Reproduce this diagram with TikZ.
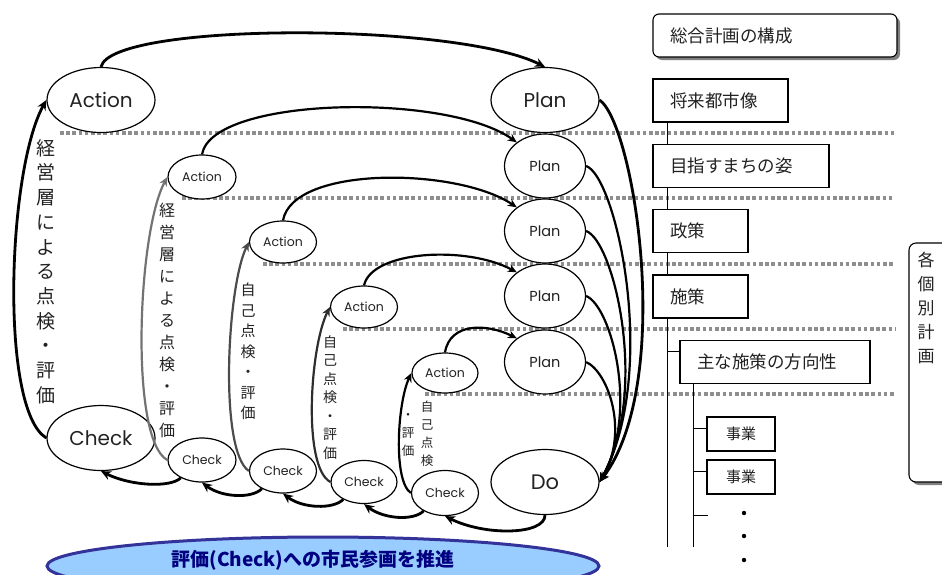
\documentclass[tikz,border=0pt]{standalone}
\usepackage{fontspec}
\usetikzlibrary{shapes.geometric,arrows.meta,shadows}
\newfontfamily\jp{Noto Sans CJK JP}
\newfontfamily\lat{Poppins}
\definecolor{navyb}{HTML}{333399}
\definecolor{navyt}{HTML}{000080}
\definecolor{lblue}{HTML}{99CCFF}
\definecolor{txt}{HTML}{222222}
\definecolor{dotg}{HTML}{8E8E8E}
\begin{document}
\begin{tikzpicture}[x=1pt,y=-1pt,
  dotsep/.style={draw=dotg, line width=3.2pt, dash pattern=on 3.6pt off 2.6pt},
  ell/.style={ellipse, draw, line width=1.2pt, fill=white, inner sep=0pt, text=txt},
  bigell/.style={ell, minimum width=108pt, minimum height=65pt, font=\lat\fontsize{20}{24}\selectfont},
  planell/.style={ell, minimum width=81pt, minimum height=64pt, font=\lat\fontsize{14.5}{17}\selectfont},
  smell/.style={ell, font=\lat\fontsize{12.5}{15}\selectfont},
  bigarr/.style={-{Stealth[length=10pt,width=9pt]}, line width=2.8pt},
  midarr/.style={-{Stealth[length=9pt,width=8pt]}, line width=2.2pt},
  jbox/.style={draw, line width=1.1pt, fill=white, inner xsep=17pt, inner ysep=0pt, minimum height=43pt, align=left, text=txt, font=\jp\fontsize{17.5}{20}\selectfont},
  sbox/.style={draw, line width=1.1pt, fill=white, inner sep=0pt, minimum width=68pt, minimum height=34pt, text=txt, font=\jp\fontsize{15}{18}\selectfont},
  shad/.style={drop shadow={shadow xshift=3pt, shadow yshift=-3pt, fill=black!50, opacity=1}},
  vtxt/.style={inner sep=0pt, align=center, text=txt}
]
\useasboundingbox (0,0) rectangle (942,574);

% dotted separators
\draw[dotsep] (60,133) -- (895,133);
\draw[dotsep] (182,198) -- (895,198);
\draw[dotsep] (263,264) -- (895,264);
\draw[dotsep] (343,329) -- (895,329);
\draw[dotsep] (425,394) -- (895,394);

% tree trunks
\coordinate (t1) at (667,122);
\coordinate (t1b) at (667,547);
\draw[line width=1pt] (t1) -- (t1b);
\coordinate (t2) at (693,384);
\coordinate (t2b) at (693,547);
\draw[line width=1pt] (t2) -- (t2b);

% right side boxes
\node[jbox, rounded corners=6pt, shad, text width=210pt] (sogo) at (775,35.5) {総合計画の構成};
\node[jbox, text width=101pt] (fut) at (720.5,100.5) {将来都市像};
\node[jbox, text width=142pt] (mezasu) at (741,166) {目指すまちの姿};
\node[jbox, text width=61pt] (seisaku) at (700.5,231) {政策};
\node[jbox, text width=61pt] (shisaku) at (700.5,296.5) {施策};
\node[jbox, text width=156pt] (omona) at (775,362) {主な施策の方向性};
\node[sbox] (jig1) at (741,434) {事業};
\node[sbox] (jig2) at (741,477) {事業};
\coordinate (b1) at (667,351);
\draw[line width=1pt] (b1) -- (b1 -| omona.west);
\coordinate (b2) at (693,428);
\draw[line width=1pt] (b2) -- (b2 -| jig1.west);
\coordinate (b3) at (693,471);
\draw[line width=1pt] (b3) -- (b3 -| jig2.west);
\coordinate (b4) at (693,515);
\coordinate (b4e) at (708,515);
\draw[line width=1pt] (b4) -- (b4e);
\fill (744,513) circle (2.2pt);
\fill (744,536) circle (2.2pt);
\fill (744,560) circle (2.2pt);

\node[draw, line width=1.1pt, fill=white, rounded corners=7pt, shad, minimum width=70pt, minimum height=239pt] (indiv) at (944,362.5) {};
\node[vtxt, font=\jp\fontsize{17}{24.2}\selectfont] (indivt) at (926,308) {各\\個\\別\\計\\画};

% ellipses
\node[bigell] (act) at (101,100) {Action};
\node[bigell] (pl0) at (545,100) {Plan};
\node[bigell] (chk) at (101,438) {Check};
\node[bigell, font=\lat\fontsize{21}{24}\selectfont] (do) at (545,482) {Do};
\node[planell] (pl1) at (545,166) {Plan};
\node[planell] (pl2) at (545,231) {Plan};
\node[planell] (pl3) at (545,296) {Plan};
\node[planell] (pl4) at (545,362) {Plan};
\node[smell, minimum width=68pt, minimum height=44pt] (a1) at (202,177) {Action};
\node[smell, minimum width=67pt, minimum height=42pt] (a2) at (283,242) {Action};
\node[smell, minimum width=67pt, minimum height=42pt] (a3) at (364,307) {Action};
\node[smell, minimum width=66pt, minimum height=40pt] (a4) at (445,373) {Action};
\node[smell, minimum width=68pt, minimum height=44pt] (c1) at (202,460) {Check};
\node[smell, minimum width=67pt, minimum height=44pt] (c2) at (283,471) {Check};
\node[smell, minimum width=66pt, minimum height=43pt] (c3) at (364,482) {Check};
\node[smell, minimum width=67pt, minimum height=45pt] (c4) at (445,493) {Check};

% vertical labels
\node[vtxt, font=\jp\fontsize{19}{24.7}\selectfont] (v1) at (46,271.5) {経\\営\\層\\に\\よ\\る\\点\\検\\・\\評\\価};
\node[vtxt, font=\jp\fontsize{16}{22}\selectfont] (v2) at (167,320) {経\\営\\層\\に\\よ\\る\\点\\検\\・\\評\\価};
\node[vtxt, font=\jp\fontsize{15}{20.5}\selectfont] (v3) at (248,351.5) {自\\己\\点\\検\\・\\評\\価};
\node[vtxt, font=\jp\fontsize{14}{18.5}\selectfont] (v4) at (330,397.5) {自\\己\\点\\検\\・\\評\\価};
\node[vtxt, font=\jp\fontsize{12.5}{18}\selectfont] (v5a) at (427,434) {自\\己\\点\\検};
\node[vtxt, font=\jp\fontsize{12.5}{18}\selectfont] (v5b) at (408,435) {・\\評\\価};

% Check -> Action (left)
\draw[bigarr] (chk.west) .. controls +(-47,-28) and +(-39,70) .. (act.west);
\draw[midarr, color=black!55] (c1.west) .. controls +(-38,-20) and +(-30,55) .. (a1.west);
\draw[midarr, color=black!70] (c2.west) .. controls +(-30,-20) and +(-22,45) .. (a2.west);
\draw[midarr, color=black!82] (c3.west) .. controls +(-28,-15) and +(-20,40) .. (a3.west);
\draw[midarr, color=black] (c4.west) .. controls +(-18,-12) and +(-14,30) .. (a4.west);

% Action -> Plan (top)
\draw[bigarr] (act.north) .. controls +(10,-45) and +(-90,-45) .. (pl0.north);
\draw[midarr] (a1.north) .. controls +(10,-58) and +(-70,-50) .. (pl1.140);
\draw[midarr] (a2.north) .. controls +(10,-55) and +(-60,-40) .. (pl2.140);
\draw[midarr] (a3.north) .. controls +(8,-35) and +(-50,-27) .. (pl3.140);
\draw[midarr] (a4.north) .. controls +(5,-30) and +(-30,-15) .. (pl4.140);

% Plan -> Do (right)
\draw[bigarr] (pl0.east) .. controls +(35,25) and +(75,-100) .. (do.east);
\draw[midarr] (pl1.east) .. controls +(30,10) and +(60,-110) .. (do.east);
\draw[midarr] (pl2.east) .. controls +(28,10) and +(50,-90) .. (do.east);
\draw[midarr] (pl3.east) .. controls +(25,10) and +(40,-70) .. (do.east);
\draw[midarr] (pl4.east) .. controls +(22,10) and +(30,-50) .. (do.east);

% bottom: Do -> Check chain
\draw[bigarr] (do.south) .. controls +(0,20) and +(40,20) .. (c4.south);
\draw[bigarr] (c4.220) .. controls +(-10,10) and +(20,15) .. (c3.south);
\draw[bigarr] (c3.220) .. controls +(-10,10) and +(20,15) .. (c2.south);
\draw[bigarr] (c2.220) .. controls +(-10,10) and +(20,15) .. (c1.south);
\draw[bigarr] (c1.220) .. controls +(-10,10) and +(30,15) .. (chk.south);

% banner
\node[ellipse, draw=navyb, fill=lblue, line width=3pt, minimum width=552pt, minimum height=58pt, inner sep=0pt] (banner) at (323,566) {};
\node[inner sep=0pt, text=navyt, font=\jp\bfseries\fontsize{19}{22}\selectfont] (bannert) at (313,560) {評価(Check)への市民参画を推進};
\end{tikzpicture}
\end{document}
